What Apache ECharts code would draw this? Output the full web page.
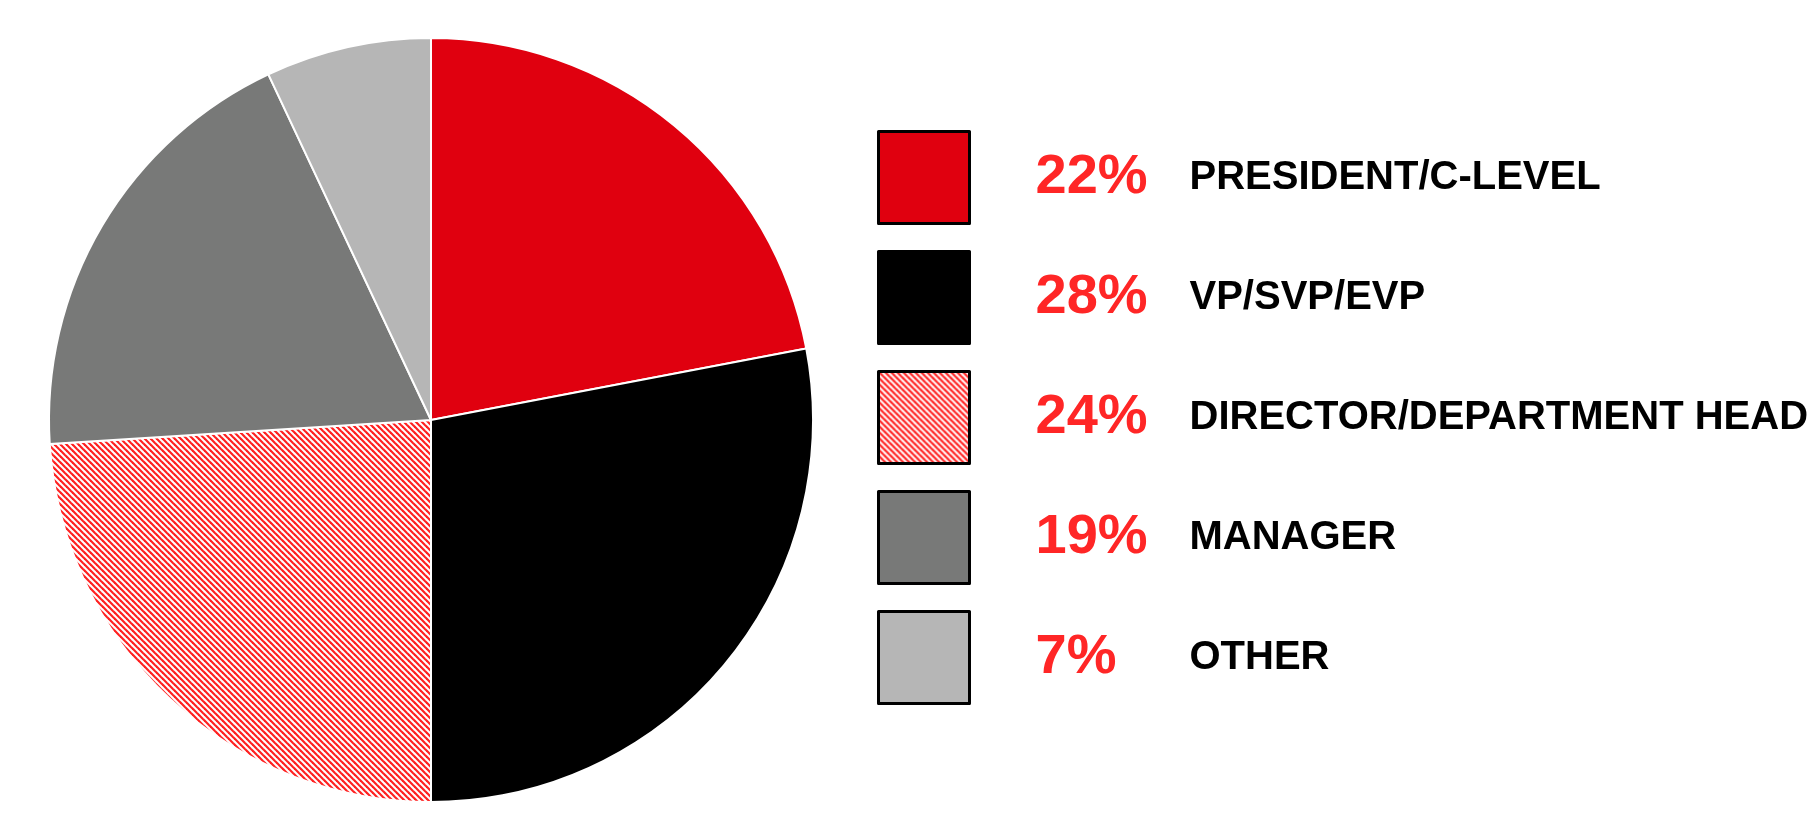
<!DOCTYPE html>
<html><head><meta charset="utf-8">
<script src="https://cdn.jsdelivr.net/npm/echarts@6/dist/echarts.min.js"></script>
<style>html,body{margin:0;padding:0;background:#fff}#c{width:1817px;height:839px}</style>
</head><body><div id="c"></div>
<script>
const categories = ['PRESIDENT/C-LEVEL', 'VP/SVP/EVP', 'DIRECTOR/DEPARTMENT HEAD', 'MANAGER', 'OTHER'];
const shares = [22, 28, 24, 19, 7];
const sliceColors = ['#E0000F', '#000000', 'hatch', '#787978', '#B6B6B6'];

function makeHatch() {
  const c = document.createElement('canvas');
  c.width = 6; c.height = 6;
  const g = c.getContext('2d');
  g.fillStyle = '#ffffff';
  g.fillRect(0, 0, 6, 6);
  g.strokeStyle = '#FF2020';
  g.lineWidth = 2.2;
  for (let k = -1; k <= 1; k++) {
    g.beginPath();
    g.moveTo(k * 6 - 1, -1);
    g.lineTo(k * 6 + 7, 7);
    g.stroke();
  }
  return { image: c, repeat: 'repeat' };
}
const hatchFill = makeHatch();

const pieData = categories.map((name, i) => ({
  name: name,
  value: shares[i],
  itemStyle: { color: sliceColors[i] === 'hatch' ? hatchFill : sliceColors[i] }
}));

const chart = echarts.init(document.getElementById('c'), null, { renderer: 'canvas' });
chart.setOption({
  backgroundColor: '#ffffff',
  animation: false,
  legend: {
    orient: 'vertical',
    left: 877,
    top: 130,
    padding: 0,
    itemWidth: 91,
    itemHeight: 92,
    itemGap: 25,
    icon: 'rect',
    selectedMode: false,
    itemStyle: { borderColor: '#000000', borderWidth: 3 },
    formatter: function (name) {
      const i = categories.indexOf(name);
      return '{pct|' + shares[i] + '%}{nm|' + name + '}';
    },
    textStyle: {
      rich: {
        pct: {
          fontFamily: 'Liberation Sans, Arial, sans-serif',
          fontWeight: 'bold',
          fontSize: 56,
          lineHeight: 60,
          color: '#FF2626',
          width: 154,
          padding: [0, 0, 0, 61]
        },
        nm: {
          fontFamily: 'Liberation Sans, Arial, sans-serif',
          fontWeight: 'bold',
          fontSize: 40,
          lineHeight: 60,
          color: '#000000'
        }
      }
    },
    data: categories
  },
  series: [{
    type: 'pie',
    center: [431, 420],
    radius: [0, 382],
    startAngle: 90,
    clockwise: true,
    label: { show: false },
    labelLine: { show: false },
    emphasis: { disabled: true },
    itemStyle: { borderColor: '#ffffff', borderWidth: 2 },
    data: pieData
  }]
});
</script>
</body></html>
